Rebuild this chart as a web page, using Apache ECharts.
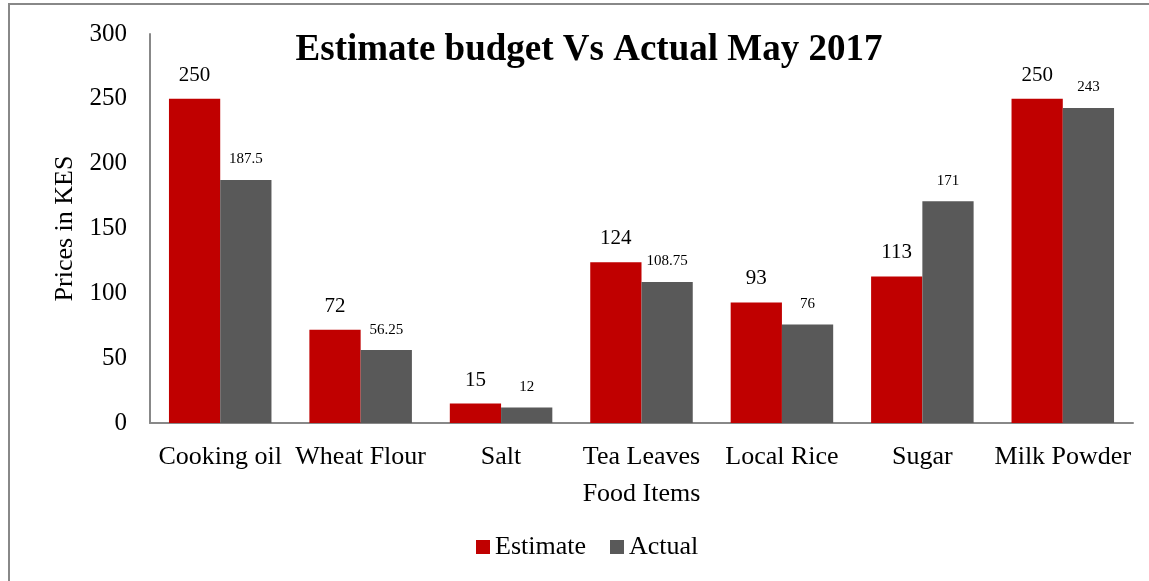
<!DOCTYPE html>
<html><head><meta charset="utf-8">
<script src="https://cdn.jsdelivr.net/npm/echarts@6/dist/echarts.min.js"></script>
<style>html,body{margin:0;padding:0;background:#fff}#c{width:1149px;height:581px}</style>
</head><body><div id="c"></div>
<script>
const categories = ['Cooking oil','Wheat Flour','Salt','Tea Leaves','Local Rice','Sugar','Milk Powder'];
const estimate = [250, 72, 15, 124, 93, 113, 250];
const actual = [187.5, 56.25, 12, 108.75, 76, 171, 243];
const yTicks = [0, 50, 100, 150, 200, 250, 300];

const F = '"Liberation Serif", "Times New Roman", serif';
const chart = echarts.init(document.getElementById('c'));
chart.setOption({
  animation: false,
  textStyle: {fontFamily: F},
  graphic: [{type:'rect', shape:{x:9, y:4, width:1150, height:590}, style:{fill:'none', stroke:'#888', lineWidth:2}, silent:true}],
  title: {text:'Estimate budget Vs Actual May 2017', left:584, top:27, textAlign:'center',
    textStyle:{fontFamily:F, fontSize:37, fontWeight:'bold', color:'#000'}},
  legend: {bottom:16, left:471, itemWidth:14, itemHeight:14, itemGap:24,
    textStyle:{fontFamily:F, fontSize:26, color:'#000'}, icon:'rect',
    data:['Estimate','Actual']},
  grid: {left:150, right:16, top:34, bottom:158},
  xAxis: {type:'category', data:categories, name:'Food Items', nameLocation:'middle', nameGap:58,
    nameTextStyle:{fontFamily:F, fontSize:26, color:'#000'},
    axisLine:{lineStyle:{color:'#888', width:2}}, axisTick:{show:false},
    axisLabel:{fontFamily:F, fontSize:26, color:'#000', margin:21, interval:0}},
  yAxis: {type:'value', min:0, max:300, interval:50, name:'Prices in KES', nameLocation:'middle', nameGap:68,
    nameTextStyle:{fontFamily:F, fontSize:26, color:'#000'},
    axisLine:{show:true, lineStyle:{color:'#888', width:2}}, axisTick:{show:false}, splitLine:{show:false},
    axisLabel:{fontFamily:F, fontSize:25, color:'#000', margin:23,
      formatter: v => yTicks.includes(v) ? String(v) : ''}},
  series: [
    {name:'Estimate', type:'bar', data:estimate, barGap:'0%', barCategoryGap:'27%',
      itemStyle:{color:'#C00000'},
      label:{show:true, position:'top', distance:13, fontFamily:F, fontSize:21, color:'#000'}},
    {name:'Actual', type:'bar', data:actual,
      itemStyle:{color:'#595959'},
      label:{show:true, position:'top', distance:13, fontFamily:F, fontSize:15, color:'#000'}}
  ]
});
</script></body></html>
